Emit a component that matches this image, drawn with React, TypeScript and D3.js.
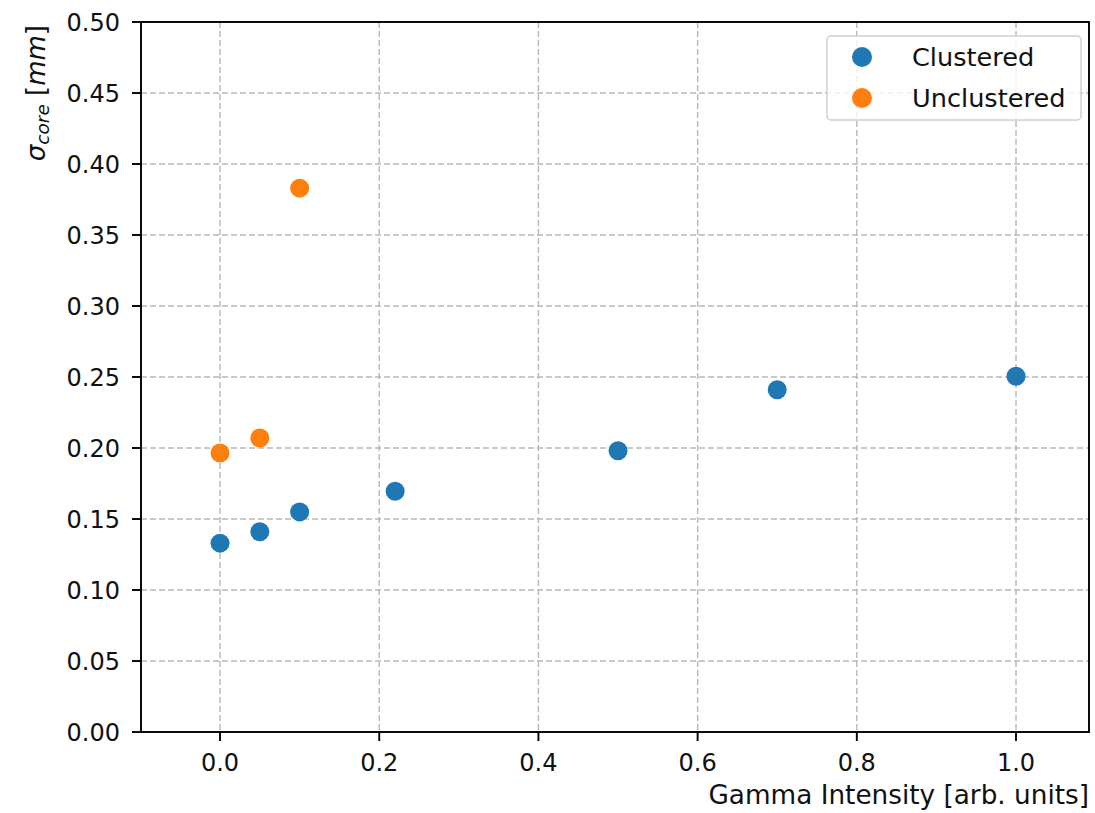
import React from "react";
import * as d3 from "d3";

const clusteredX = [0.0, 0.05, 0.1, 0.22, 0.5, 0.7, 1.0];
const clusteredY = [0.133, 0.141, 0.155, 0.1695, 0.198, 0.241, 0.2505];
const unclusteredX = [0.0, 0.05, 0.1];
const unclusteredY = [0.1965, 0.207, 0.383];
const xTicks = [0.0, 0.2, 0.4, 0.6, 0.8, 1.0];
const yTicks = [0, 0.05, 0.1, 0.15, 0.2, 0.25, 0.3, 0.35, 0.4, 0.45, 0.5];
const seriesNames = ["Clustered", "Unclustered"];
const colors = ["#1f77b4", "#ff7f0e"];

const W = 1095, H = 813;
const L = 141, R = 1089, T = 22, B = 732;
const FONT = "DejaVu Sans, sans-serif";

export default function App() {
  const x = d3.scaleLinear().domain([-0.0993, 1.0917]).range([L, R]);
  const y = d3.scaleLinear().domain([0, 0.5]).range([B, T]);
  const series = [
    { name: seriesNames[0], xs: clusteredX, ys: clusteredY, color: colors[0] },
    { name: seriesNames[1], xs: unclusteredX, ys: unclusteredY, color: colors[1] },
  ];
  return (
    <svg width={W} height={H} style={{ position: "absolute", left: 0, top: 0 }} fontFamily={FONT}>
      <rect width={W} height={H} fill="white" />
      {xTicks.map((t) => (
        <line key={"gx" + t} x1={x(t)} x2={x(t)} y1={T} y2={B} stroke="#b8b8b8" strokeWidth={1.4} strokeDasharray="6,3" />
      ))}
      {yTicks.map((t) => (
        <line key={"gy" + t} x1={L} x2={R} y1={y(t)} y2={y(t)} stroke="#b8b8b8" strokeWidth={1.4} strokeDasharray="6,3" />
      ))}
      {series.map((s) =>
        s.xs.map((v, i) => (
          <circle key={s.name + i} cx={x(v)} cy={y(s.ys[i])} r={9.5} fill={s.color} />
        ))
      )}
      <rect x={L} y={T} width={R - L} height={B - T} fill="none" stroke="black" strokeWidth={1.9} />
      {xTicks.map((t) => (
        <g key={"tx" + t}>
          <line x1={x(t)} x2={x(t)} y1={B} y2={B + 9} stroke="black" strokeWidth={1.9} />
          <text x={x(t)} y={771} textAnchor="middle" fontSize={24} fill="#111">{d3.format(".1f")(t)}</text>
        </g>
      ))}
      {yTicks.map((t) => (
        <g key={"ty" + t}>
          <line x1={L - 9} x2={L} y1={y(t)} y2={y(t)} stroke="black" strokeWidth={1.9} />
          <text x={L - 21} y={y(t)} dy="0.36em" textAnchor="end" fontSize={24} fill="#111">{d3.format(".2f")(t)}</text>
        </g>
      ))}
      <text x={R} y={804} textAnchor="end" fontSize={26.3} fill="#111">Gamma Intensity [arb. units]</text>
      <text transform={`translate(45, ${T + 3}) rotate(-90)`} textAnchor="end" fontSize={26} fill="#111">
        <tspan fontStyle="italic">σ</tspan>
        <tspan fontStyle="italic" fontSize={18.5} dy={4}>core</tspan>
        <tspan dy={-4}> [</tspan>
        <tspan fontStyle="italic">mm</tspan>
        <tspan>]</tspan>
      </text>
      <g>
        <rect x={827} y={36} width={254} height={84} rx={4} fill="white" fillOpacity={0.8} stroke="#d0d0d0" strokeWidth={1.5} />
        {series.map((s, i) => (
          <g key={"lg" + s.name}>
            <circle cx={862} cy={57 + i * 41} r={10} fill={s.color} />
            <text x={912} y={57 + i * 41} dy="0.36em" fontSize={25.6} fill="#111">{s.name}</text>
          </g>
        ))}
      </g>
    </svg>
  );
}
